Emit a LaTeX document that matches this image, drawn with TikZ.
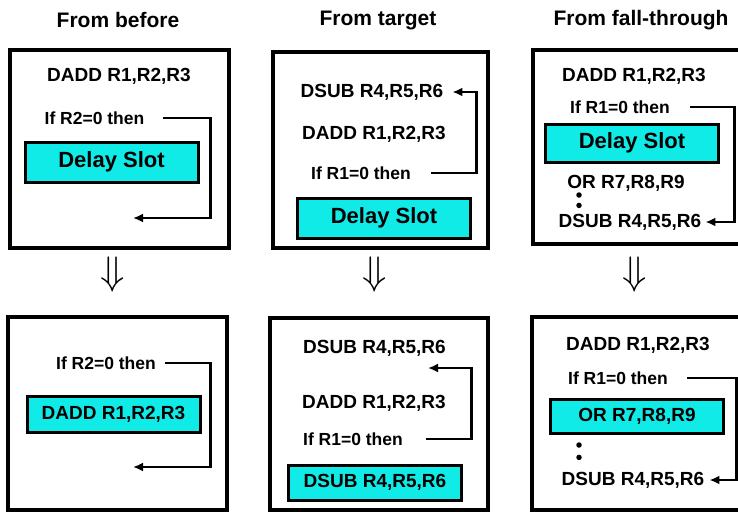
\documentclass[tikz,border=0pt]{standalone}
\usepackage{fontspec}
\setmainfont{Liberation Sans}
\usetikzlibrary{arrows.meta,positioning,calc}
\definecolor{slotcyan}{HTML}{10EBE8}

\begin{document}
\begin{tikzpicture}[
 x=1pt,y=-1pt,>={Latex[length=10pt,width=9pt]},
 heading/.style={font=\bfseries\fontsize{21}{25}\selectfont},
 instr/.style={font=\bfseries\fontsize{19}{23}\selectfont,inner sep=0pt},
 cond/.style={font=\bfseries\fontsize{17.5}{21}\selectfont,inner sep=0pt},
 panel/.style 2 args={draw,line width=3.2pt,minimum width=#1,minimum height=#2},
 slot/.style={draw,fill=slotcyan,line width=3pt,minimum width=173pt,minimum height=#1},
 slotlabel/.style={font=\bfseries\fontsize{22}{26}\selectfont},
 vdot/.style={circle,fill,inner sep=0pt,minimum size=5.5pt},
 branch/.style={->,line width=2.8pt},
 downarrow/.style={font=\fontsize{24}{24}\selectfont,scale=1.6}
]
\path[use as bounding box,clip] (0,0) rectangle (738,512);

\node[panel={219pt}{198pt}] (beforeA) at (119.5,149) {};
\node[panel={215pt}{196pt}] (targetA) at (380.5,150) {};
\node[panel={220pt}{194pt}] (fallA) at (643,147) {};
\node[panel={219pt}{193pt}] (beforeB) at (117.5,413.5) {};
\node[panel={218pt}{192pt}] (targetB) at (379,414) {};
\node[panel={220pt}{193pt}] (fallB) at (642,413.5) {};

\node[heading] (hbefore) at (118,20) {From before};
\node[heading] (htarget) at (378,20) {From target};
\node[heading] (hfall) at (641,20) {From fall-through};
\foreach \x/\n in {113/before,375/target,635/fall}
 \node[downarrow] (to\n) at (\x,275) {$\Downarrow$};

% from before
\node[instr] (addA) at (119,76) {DADD R1,R2,R3};
\node[cond] (ifA) at (94.5,118) {If R2=0 then};
\node[slot=40pt,slotlabel] (slotA) at (111.5,162) {Delay Slot};
\coordinate (landA) at (133,218);
\draw[branch] ([xshift=18pt]ifA.east) -- ($(ifA.east -| beforeA.east)+(-20,0)$) |- (landA);

\node[cond] (ifD) at (106,363) {If R2=0 then};
\node[slot=36pt,instr] (slotD) at (113.5,414) {DADD R1,R2,R3};
\coordinate (landD) at (133,467);
\draw[branch] ([xshift=9pt]ifD.east) -- ($(ifD.east -| beforeB.east)+(-18,0)$) |- (landD);

% from target
\node[instr] (subA) at (372,92) {DSUB R4,R5,R6};
\node[instr] (addB) at (374,134) {DADD R1,R2,R3};
\node[cond] (ifB) at (361,173) {If R1=0 then};
\node[slot=40pt,slotlabel] (slotB) at (384,218) {Delay Slot};
\draw[branch] ([xshift=20pt]ifB.east) -- ($(ifB.east -| targetA.east)+(-13,0)$) |- ([xshift=9pt]subA.east);

\node[instr] (subC) at (374.5,348) {DSUB R4,R5,R6};
\node[instr] (addE) at (374,403) {DADD R1,R2,R3};
\node[cond] (ifE) at (353,439) {If R1=0 then};
\node[slot=35pt,instr] (slotE) at (375,482.5) {DSUB R4,R5,R6};
\coordinate (landE) at (428,368);
\draw[branch] ([xshift=23pt]ifE.east) -- ($(ifE.east -| targetB.east)+(-18,0)$) |- (landE);

% from fall-through
\node[instr] (addC) at (634,76) {DADD R1,R2,R3};
\node[cond] (ifC) at (620,107) {If R1=0 then};
\node[slot=38pt,slotlabel] (slotC) at (632,143) {Delay Slot};
\node[instr] (orA) at (626,183) {OR R7,R8,R9};
\node[vdot] (dotA) at (579,195) {};
\node[vdot,below=4.5pt of dotA] (dotB) {};
\node[instr] (subB) at (630,222) {DSUB R4,R5,R6};
\draw[branch] ([xshift=20pt]ifC.east) -- ($(ifC.east -| fallA.east)+(-20,0)$) |- ([xshift=4pt]subB.east);

\node[instr] (addF) at (638,345) {DADD R1,R2,R3};
\node[cond] (ifF) at (618,378) {If R1=0 then};
\node[slot=34pt,instr] (slotF) at (637,416) {OR R7,R8,R9};
\node[vdot] (dotC) at (579,445) {};
\node[vdot,below=6.5pt of dotC] (dotD) {};
\node[instr] (subD) at (633,480) {DSUB R4,R5,R6};
\draw[branch] ([xshift=19pt]ifF.east) -- ($(ifF.east -| fallB.east)+(-17,0)$) |- ([xshift=5pt]subD.east);
\end{tikzpicture}
\end{document}
